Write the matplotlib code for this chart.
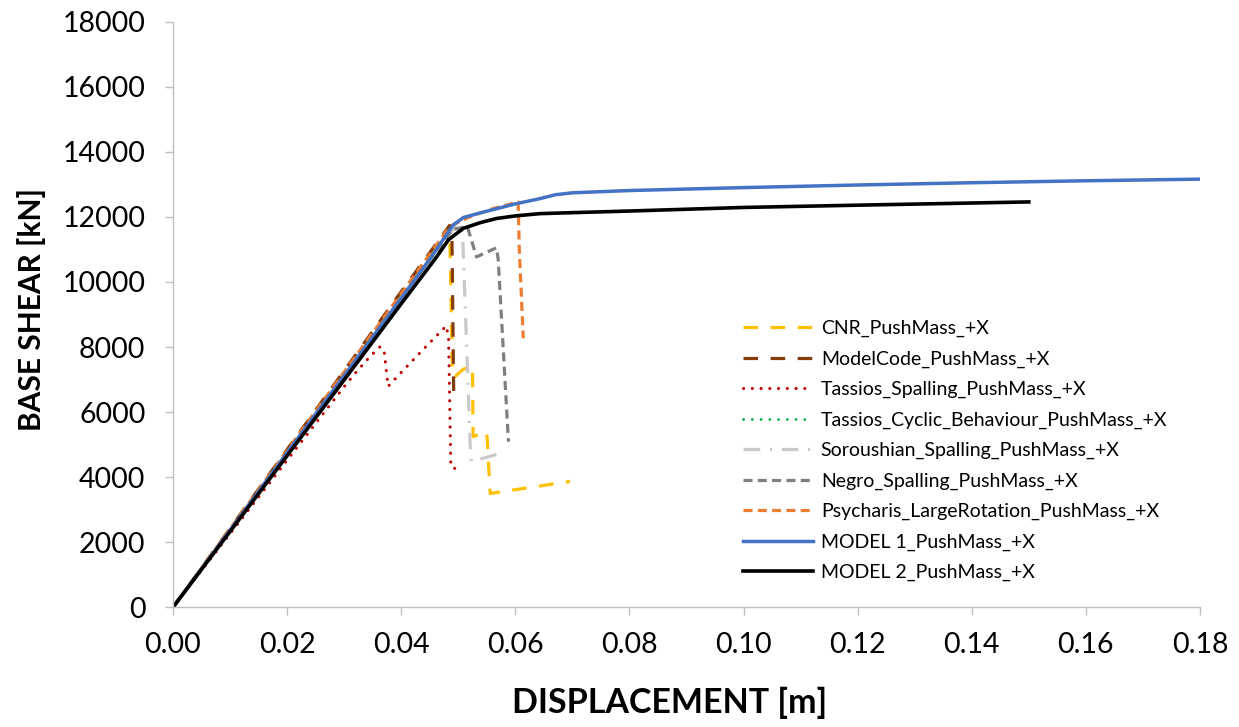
import numpy as np
import matplotlib
matplotlib.use('Agg')
import matplotlib.pyplot as plt

plt.rcParams['font.family'] = ['Lato', 'DejaVu Sans']
plt.rcParams['lines.scale_dashes'] = False

# displacement [m] / base shear [kN]
cnr_x = [0, 0.02, 0.04, 0.0485, 0.0490, 0.0494, 0.0509, 0.0525, 0.0526, 0.0550, 0.0556, 0.0696]
cnr_v = [0, 4830, 9660, 11700, 7090, 7090, 7320, 7400, 5250, 5400, 3500, 3870]

mc_x = [0, 0.01, 0.02, 0.03, 0.04, 0.045, 0.0485, 0.0489, 0.0492, 0.0500]
mc_v = [0, 2420, 4850, 7270, 9700, 10900, 11740, 11300, 6630, 6330]

tsp_x = [0, 0.01, 0.02, 0.03, 0.0322, 0.0345, 0.0363, 0.0370, 0.0377, 0.040, 0.044, 0.0479, 0.0483, 0.0487, 0.0495]
tsp_v = [0, 2260, 4520, 6780, 7250, 7700, 8010, 7900, 6790, 7220, 7950, 8650, 8300, 4330, 4260]

tcy_x = [0, 0.01, 0.02, 0.03, 0.04, 0.046, 0.0483]
tcy_v = [0, 2330, 4660, 6990, 9330, 10720, 11300]

sor_x = [0, 0.02, 0.04, 0.0490, 0.0505, 0.0508, 0.0521, 0.0523, 0.0570]
sor_v = [0, 4760, 9520, 11600, 11750, 11300, 4940, 4480, 4710]

neg_x = [0, 0.02, 0.04, 0.0490, 0.0516, 0.0532, 0.0567, 0.0570, 0.0588]
neg_v = [0, 4760, 9520, 11620, 11700, 10770, 11050, 10700, 5090]

psy_x = [0, 0.02, 0.04, 0.0485, 0.052, 0.056, 0.0605, 0.0607, 0.0614]
psy_v = [0, 4820, 9640, 11700, 12000, 12250, 12460, 11000, 8270]

m1_x = [0, 0.01, 0.02, 0.03, 0.04, 0.045, 0.0491, 0.0509, 0.054, 0.0567, 0.060, 0.0643, 0.067, 0.07,
        0.08, 0.10, 0.12, 0.14, 0.16, 0.18]
m1_v = [0, 2370, 4750, 7120, 9500, 10700, 11750, 11980, 12130, 12250, 12400, 12560, 12680, 12740,
        12810, 12900, 12980, 13050, 13110, 13160]

m2_x = [0, 0.01, 0.02, 0.03, 0.04, 0.046, 0.0483, 0.0509, 0.054, 0.0567, 0.060, 0.0643, 0.07,
        0.08, 0.10, 0.12, 0.15]
m2_v = [0, 2330, 4660, 6990, 9330, 10720, 11300, 11650, 11830, 11950, 12030, 12100, 12130,
        12180, 12290, 12360, 12460]

labels = ['CNR_PushMass_+X', 'ModelCode_PushMass_+X', 'Tassios_Spalling_PushMass_+X',
          'Tassios_Cyclic_Behaviour_PushMass_+X', 'Soroushian_Spalling_PushMass_+X',
          'Negro_Spalling_PushMass_+X', 'Psycharis_LargeRotation_PushMass_+X',
          'MODEL 1_PushMass_+X', 'MODEL 2_PushMass_+X']

fig = plt.figure(figsize=(12.39, 7.27), dpi=100)
ax = fig.add_axes([0.1396, 0.1646, 0.8289, 0.8056])

ax.plot(cnr_x, cnr_v, color='#FFC000', lw=2.3, dashes=(10.5, 9), label=labels[0])
ax.plot(mc_x, mc_v, color='#843C0C', lw=2.3, dashes=(10.5, 9), label=labels[1])
ax.plot(tsp_x, tsp_v, color='#C00000', lw=2.2, dashes=(0.1, 6.2), dash_capstyle='round', label=labels[2])
ax.plot(tcy_x, tcy_v, color='#00B050', lw=2.0, dashes=(0.1, 6.2), dash_capstyle='round', label=labels[3])
ax.plot(sor_x, sor_v, color='#C9C9C9', lw=2.3, dashes=(12, 7, 1.5, 7), label=labels[4])
ax.plot(neg_x, neg_v, color='#7F7F7F', lw=2.3, dashes=(6.5, 3.8), label=labels[5])
ax.plot(psy_x, psy_v, color='#ED7D31', lw=2.3, dashes=(6.5, 3.8), label=labels[6])
ax.plot(m1_x, m1_v, color='#4472C4', lw=2.5, label=labels[7])
ax.plot(m2_x, m2_v, color='#000000', lw=2.6, label=labels[8])

ax.set_xlim(0, 0.18)
ax.set_ylim(0, 18000)
ax.set_xticks(np.arange(0, 0.181, 0.02))
ax.set_xticklabels(['%.2f' % t for t in np.arange(0, 0.181, 0.02)])
ax.set_yticks(np.arange(0, 18001, 2000))

for s in ['top', 'right']:
    ax.spines[s].set_visible(False)
for s in ['left', 'bottom']:
    ax.spines[s].set_color('#BFBFBF')
    ax.spines[s].set_linewidth(1.0)
ax.tick_params(axis='both', direction='out', length=5.8, width=1.0, color='#BFBFBF',
               labelsize=20.5, labelcolor='black')
ax.tick_params(axis='y', pad=14)
ax.tick_params(axis='x', pad=12)

fig.text(670 / 1239, 1 - 703 / 727, 'DISPLACEMENT [m]', ha='center', va='center', fontsize=24.5,
         fontweight='bold')
fig.text(32 / 1239, 1 - 310 / 727, 'BASE SHEAR [kN]', ha='center', va='center', rotation=90,
         fontsize=21.5, fontweight='bold')

ax.legend(loc='upper left', bbox_to_anchor=(743 / 1239, 1 - 320 / 727), bbox_transform=fig.transFigure,
          frameon=False, fontsize=14, handlelength=3.6, handletextpad=0.4, labelspacing=0.68,
          borderpad=0, borderaxespad=0)

fig.savefig('out.png', dpi=100)
